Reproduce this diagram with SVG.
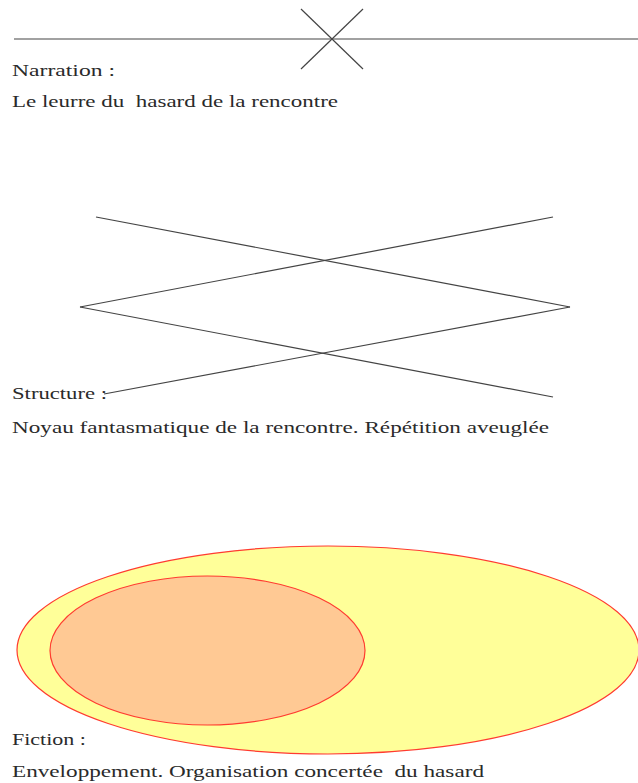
<svg xmlns="http://www.w3.org/2000/svg" width="638" height="783" viewBox="0 0 638 783">
<style>
.t{font-family:"Liberation Serif","DejaVu Serif",serif;font-size:17px;fill:#2a2a2a;white-space:pre}
.ln{stroke:#444;stroke-width:1.2;fill:none}
.el{stroke:#ff3b30;stroke-width:1.2}
</style>
<rect width="638" height="783" fill="#fff"/>
<g id="narration">
<line class="ln" x1="14" y1="39" x2="638" y2="39"/>
<line class="ln" x1="301" y1="9" x2="363" y2="69"/>
<line class="ln" x1="363" y1="9" x2="301" y2="69"/>
<text class="t" x="12" y="76" textLength="103" lengthAdjust="spacingAndGlyphs">Narration :</text>
<text class="t" x="12" y="107" textLength="326" lengthAdjust="spacingAndGlyphs">Le leurre du  hasard de la rencontre</text>
</g>
<g id="structure">
<line class="ln" x1="96" y1="217" x2="570" y2="307"/>
<line class="ln" x1="553" y1="217" x2="80" y2="307"/>
<line class="ln" x1="80" y1="307" x2="553" y2="397"/>
<line class="ln" x1="570" y1="307" x2="104" y2="394"/>
<text class="t" x="12" y="399" textLength="95" lengthAdjust="spacingAndGlyphs">Structure :</text>
<text class="t" x="12" y="433" textLength="537" lengthAdjust="spacingAndGlyphs">Noyau fantasmatique de la rencontre. Répétition aveuglée</text>
</g>
<g id="fiction">
<ellipse class="el" cx="328" cy="650" rx="311" ry="104" fill="#ffff99"/>
<ellipse class="el" cx="207.5" cy="650.5" rx="157.5" ry="74.5" fill="#ffc994"/>
<text class="t" x="12" y="745" textLength="74" lengthAdjust="spacingAndGlyphs">Fiction :</text>
<text class="t" x="12" y="777" textLength="472" lengthAdjust="spacingAndGlyphs">Enveloppement. Organisation concertée  du hasard</text>
</g>
</svg>
